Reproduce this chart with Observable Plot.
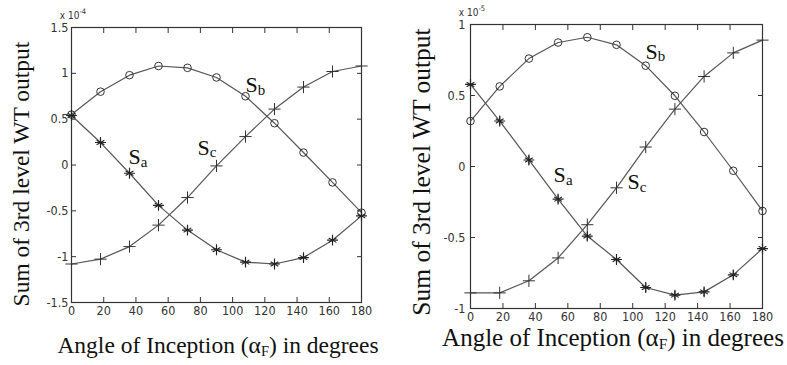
<!DOCTYPE html>
<html>
<head>
<meta charset="utf-8">
<script src="https://cdn.jsdelivr.net/npm/d3@7"></script>
<script src="https://cdn.jsdelivr.net/npm/@observablehq/plot@0.6"></script>
<style>
  html, body { margin: 0; padding: 0; background: #fff; }
  #wrap { position: relative; width: 787px; height: 365px; overflow: hidden; }
  #p1, #p2 { position: absolute; top: 0; }
  #p1 { left: 0; }
  #p2 { left: 393px; }
  g[aria-label$="tick label"] text, text.mult { font-stretch: condensed; }
</style>
</head>
<body>
<div id="wrap"><div id="p1"></div><div id="p2"></div></div>
<script>
// ---- data ----
const angles = [0, 18, 36, 54, 72, 90, 108, 126, 144, 162, 180];
const xTicks = [0, 20, 40, 60, 80, 100, 120, 140, 160, 180];

// left panel (x 10^-4)
const leftSa = [0.54, 0.245, -0.09, -0.44, -0.71, -0.925, -1.06, -1.08, -1.01, -0.82, -0.555];
const leftSb = [0.55, 0.80, 0.98, 1.08, 1.06, 0.955, 0.75, 0.456, 0.136, -0.19, -0.52];
const leftSc = [-1.08, -1.027, -0.89, -0.656, -0.355, -0.01, 0.31, 0.61, 0.85, 1.02, 1.08];
const leftYTicks = [-1.5, -1, -0.5, 0, 0.5, 1, 1.5];
const leftExp = "-4";

// right panel (x 10^-5)
const rightSa = [0.578, 0.32, 0.046, -0.23, -0.49, -0.655, -0.852, -0.906, -0.883, -0.763, -0.578];
const rightSb = [0.32, 0.564, 0.76, 0.873, 0.91, 0.857, 0.71, 0.498, 0.243, -0.03, -0.313];
const rightSc = [-0.89, -0.89, -0.805, -0.644, -0.41, -0.15, 0.137, 0.404, 0.634, 0.80, 0.89];
const rightYTicks = [-1, -0.5, 0, 0.5, 1];
const rightExp = "-5";

// curve annotations (data coordinates)
const leftLabels = [
  {x: 35.4, y: 0.09, main: "S", sub: "a"},
  {x: 108, y: 0.87, main: "S", sub: "b"},
  {x: 78.2, y: 0.19, main: "S", sub: "c"}
];
const rightLabels = [
  {x: 51.2, y: -0.06, main: "S", sub: "a"},
  {x: 107.9, y: 0.81, main: "S", sub: "b"},
  {x: 96.8, y: -0.11, main: "S", sub: "c"}
];

const yTitle = "Sum of 3rd level WT output";
const xTitleParts = ["Angle of Inception (", "\u03b1", "F", ") in degrees"];

const serif = "'Liberation Serif', 'Times New Roman', serif";
const narrow = "'DejaVu Sans Condensed', 'DejaVu Sans', sans-serif";

function series(sa, sb, sc) {
  const rows = [];
  angles.forEach((a, i) => {
    rows.push({angle: a, value: sa[i], s: "Sa"});
    rows.push({angle: a, value: sb[i], s: "Sb"});
    rows.push({angle: a, value: sc[i], s: "Sc"});
  });
  return rows;
}

function panel(cfg) {
  const rows = series(cfg.sa, cfg.sb, cfg.sc);
  const fmt = d => String(d);
  const chart = Plot.plot({
    width: cfg.width, height: 365,
    marginLeft: cfg.ml, marginRight: cfg.mr, marginTop: cfg.mt, marginBottom: cfg.mb,
    style: {background: "transparent", color: "#222"},
    x: {domain: [0, 180], axis: null},
    y: {domain: cfg.ydomain, axis: null},
    marks: [
      Plot.frame({stroke: "#333", strokeWidth: 1.2}),
      // inward ticks on all four sides
      Plot.axisX(xTicks, {anchor: "bottom", tickSize: -5, text: null, stroke: "#333"}),
      Plot.axisX(xTicks, {anchor: "top", tickSize: -5, text: null, stroke: "#333"}),
      Plot.axisY(cfg.yticks, {anchor: "left", tickSize: -5, text: null, stroke: "#333"}),
      Plot.axisY(cfg.yticks, {anchor: "right", tickSize: -5, text: null, stroke: "#333"}),
      Plot.axisX(xTicks, {anchor: "bottom", tickSize: 0, tickPadding: cfg.xpad, tickFormat: fmt,
        fontSize: 12.5, fontFamily: narrow, fill: "#333"}),
      Plot.axisY(cfg.yticks, {anchor: "left", tickSize: 0, tickPadding: cfg.ypad, tickFormat: fmt,
        fontSize: 12.5, fontFamily: narrow, fill: "#333"}),
      Plot.line(rows, {x: "angle", y: "value", z: "s", stroke: "#555", strokeWidth: 1.2}),
      Plot.dot(rows.filter(d => d.s === "Sb"), {x: "angle", y: "value", symbol: "circle", r: 3.8, stroke: "#333", strokeWidth: 1, fill: "none"}),
      Plot.dot(rows.filter(d => d.s === "Sa"), {x: "angle", y: "value", symbol: "asterisk", r: 4.2, stroke: "#222", strokeWidth: 1.1}),
      Plot.dot(rows.filter(d => d.s === "Sa"), {x: "angle", y: "value", symbol: "plus", r: 3.6, stroke: "#222", strokeWidth: 1.1}),
      Plot.dot(rows.filter(d => d.s === "Sc"), {x: "angle", y: "value", symbol: "plus", r: 4, stroke: "#333", strokeWidth: 1}),
      Plot.text(cfg.labels, {x: "x", y: "y", text: "main", textAnchor: "start", fontSize: cfg.lfs, fontFamily: serif, fill: "#111"}),
      Plot.text(cfg.labels, {x: "x", y: "y", text: "sub", textAnchor: "start", dx: cfg.lfs * 0.56, dy: 5, fontSize: cfg.lfs * 0.68, fontFamily: serif, fill: "#111"})
    ]
  });
  const svg = d3.select(chart);
  const fx0 = cfg.ml, fy0 = cfg.mt;
  // multiplier label
  const m = svg.append("text").attr("class", "mult").attr("x", fx0 + 2).attr("y", fy0 - 8)
    .attr("font-family", narrow).attr("font-size", 10).attr("fill", "#333");
  m.append("tspan").text("x 10");
  m.append("tspan").attr("font-size", 7.5).attr("dy", -5).text(cfg.exp);
  // y axis title
  svg.append("text")
    .attr("transform", `translate(${cfg.ytx},${cfg.yty}) rotate(-90)`)
    .attr("text-anchor", "middle").attr("font-family", serif)
    .attr("font-size", cfg.yfs).attr("fill", "#111").text(yTitle);
  // x axis title
  const t = svg.append("text").attr("x", cfg.xtx).attr("y", cfg.xty)
    .attr("text-anchor", "middle").attr("font-family", serif)
    .attr("font-size", cfg.xfs).attr("fill", "#111");
  t.append("tspan").text(xTitleParts[0]);
  t.append("tspan").text(xTitleParts[1]);
  t.append("tspan").attr("font-size", cfg.xfs * 0.62).attr("dy", 3).text(xTitleParts[2]);
  t.append("tspan").attr("dy", -3).text(xTitleParts[3]);
  return chart;
}

document.getElementById("p1").appendChild(panel({
  width: 393, ml: 71, mr: 32, mt: 27, mb: 63,
  ydomain: [-1.5, 1.5], yticks: leftYTicks, exp: leftExp,
  sa: leftSa, sb: leftSb, sc: leftSc, labels: leftLabels,
  xpad: 4, ypad: 3, lfs: 22,
  ytx: 29, yty: 174, yfs: 23.5,
  xtx: 218, xty: 353, xfs: 23.5
}));

document.getElementById("p2").appendChild(panel({
  width: 394, ml: 77, mr: 25, mt: 24, mb: 57,
  ydomain: [-1, 1], yticks: rightYTicks, exp: rightExp,
  sa: rightSa, sb: rightSb, sc: rightSc, labels: rightLabels,
  xpad: 4, ypad: 5, lfs: 22,
  ytx: 37, yty: 172, yfs: 25.5,
  xtx: 220, xty: 346, xfs: 25
}));
</script>
</body>
</html>
